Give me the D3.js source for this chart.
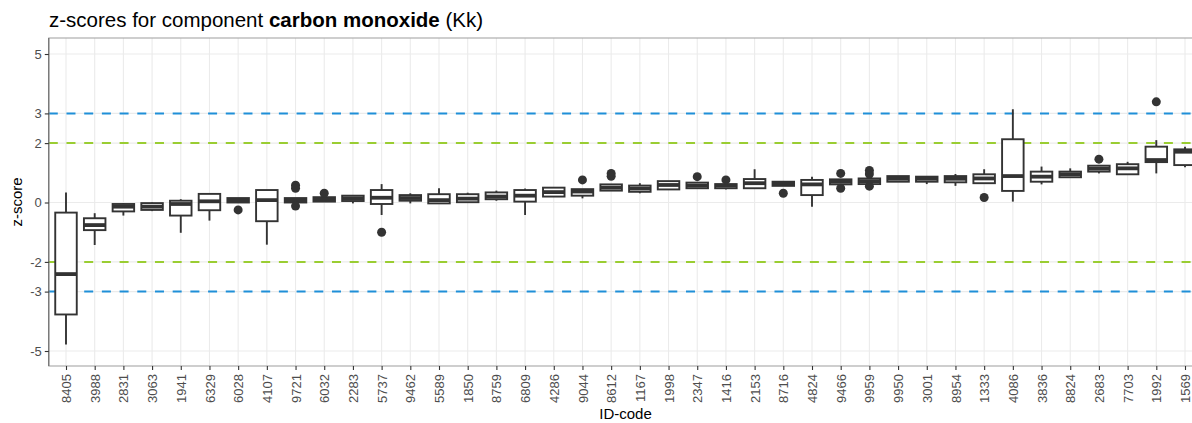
<!DOCTYPE html>
<html>
<head>
<meta charset="utf-8">
<script src="https://cdn.jsdelivr.net/npm/d3@7"></script>
<style>
  html, body { margin: 0; padding: 0; background: #fff; overflow: hidden; }
  svg { display: block; font-family: "Liberation Sans", Arial, sans-serif; }
</style>
</head>
<body>
<svg id="chart" width="1192" height="423"></svg>
<script>
const ids = ["8405","3988","2831","3063","1941","6329","6028","4107","9721","6032",
  "2283","5737","9462","5589","1850","8759","6809","4286","9044","8612",
  "1167","1998","2347","1416","2153","8716","4824","9466","9959","9950",
  "3001","8954","1333","4086","3836","8824","2683","7703","1992","1569"];
const whiskerLow = [-4.78,-1.43,-0.44,-0.29,-1.02,-0.61,0.00,-1.42,0.00,0.03,
  -0.03,-0.42,-0.03,-0.03,0.01,0.06,-0.42,0.20,0.14,0.40,
  0.31,0.44,0.48,0.44,0.48,0.56,-0.14,0.61,0.62,0.70,
  0.62,0.56,0.65,0.03,0.61,0.85,0.98,0.95,0.98,1.19];
const q1 = [-3.77,-0.93,-0.30,-0.25,-0.44,-0.26,0.00,-0.63,0.00,0.03,
  0.05,-0.05,0.06,-0.03,0.01,0.11,0.03,0.20,0.23,0.40,
  0.36,0.44,0.48,0.48,0.48,0.56,0.25,0.61,0.62,0.70,
  0.70,0.68,0.65,0.39,0.70,0.85,1.04,0.95,1.36,1.26];
const median = [-2.41,-0.76,-0.14,-0.14,-0.05,0.04,0.08,0.08,0.07,0.10,
  0.14,0.16,0.15,0.08,0.13,0.20,0.23,0.35,0.37,0.50,
  0.47,0.59,0.57,0.57,0.65,0.63,0.61,0.70,0.72,0.80,
  0.80,0.80,0.81,0.89,0.87,0.95,1.14,1.15,1.43,1.71];
const q3 = [-0.34,-0.53,-0.05,-0.02,0.06,0.29,0.15,0.42,0.15,0.18,
  0.23,0.42,0.25,0.28,0.28,0.34,0.42,0.50,0.45,0.61,
  0.57,0.72,0.67,0.62,0.79,0.70,0.76,0.78,0.81,0.89,
  0.87,0.89,0.95,2.13,1.04,1.04,1.24,1.29,1.88,1.79];
const whiskerHigh = [0.34,-0.36,-0.02,0.00,0.11,0.29,0.15,0.42,0.15,0.18,
  0.23,0.62,0.31,0.48,0.33,0.40,0.47,0.50,0.45,0.61,
  0.65,0.72,0.67,0.62,1.12,0.70,0.87,0.78,0.81,0.89,
  0.87,0.96,1.12,3.14,1.21,1.15,1.24,1.37,2.10,1.88];
const outliers = [[],[],[],[],[],[],[-0.25],[],[0.58,0.48,-0.12],[0.31],
  [],[-1.0],[],[],[],[],[],[],[0.76],[0.98,0.88],
  [],[],[0.87],[0.76],[],[0.31],[],[0.98,0.48],[1.08,0.96,0.55],[],
  [],[],[0.17],[],[],[],[1.46],[],[3.39],[]];
const yTicks = [-5,-3,-2,0,2,3,5];
const refLines = [
  {value: 3, color: "#1f8fd8"}, {value: -3, color: "#1f8fd8"},
  {value: 2, color: "#9acd32"}, {value: -2, color: "#9acd32"}
];

const svg = d3.select("#chart");
const x = d3.scalePoint().domain(ids).range([66, 1185]);
const step = x.step();
const panelL = x(ids[0]) - 0.6 * step;
const panelR = x(ids[ids.length - 1]) + 0.6 * step;
const panelT = 38, panelB = 366;
const y = d3.scaleLinear().domain([-5.505, 5.539]).range([panelB, panelT]);

// grid
const g = svg.append("g");
g.selectAll("line.gy").data(yTicks).join("line")
  .attr("x1", panelL).attr("x2", panelR)
  .attr("y1", d => y(d)).attr("y2", d => y(d))
  .attr("stroke", "#ebebeb").attr("stroke-width", 1.1);
g.selectAll("line.gx").data(ids).join("line")
  .attr("x1", d => x(d)).attr("x2", d => x(d))
  .attr("y1", panelT).attr("y2", panelB)
  .attr("stroke", "#ebebeb").attr("stroke-width", 1.1);

// reference lines
g.selectAll("line.ref").data(refLines).join("line")
  .attr("x1", panelL).attr("x2", panelR)
  .attr("y1", d => y(d.value)).attr("y2", d => y(d.value))
  .attr("stroke", d => d.color).attr("stroke-width", 2)
  .attr("stroke-dasharray", "9,8.7");

// boxes
const bw = 0.75 * step;
const data = ids.map((id, i) => ({id, lo: whiskerLow[i], q1: q1[i], med: median[i], q3: q3[i], hi: whiskerHigh[i], out: outliers[i]}));
const bx = g.append("g").selectAll("g").data(data).join("g");
const col = "#333333";
bx.append("line").attr("x1", d => x(d.id)).attr("x2", d => x(d.id))
  .attr("y1", d => y(d.hi)).attr("y2", d => y(d.q3))
  .attr("stroke", col).attr("stroke-width", 1.9);
bx.append("line").attr("x1", d => x(d.id)).attr("x2", d => x(d.id))
  .attr("y1", d => y(d.q1)).attr("y2", d => y(d.lo))
  .attr("stroke", col).attr("stroke-width", 1.9);
bx.append("rect").attr("x", d => x(d.id) - bw / 2).attr("width", bw)
  .attr("y", d => y(d.q3)).attr("height", d => Math.max(0, y(d.q1) - y(d.q3)))
  .attr("fill", "#fff").attr("stroke", col).attr("stroke-width", 1.9);
bx.append("line").attr("x1", d => x(d.id) - bw / 2).attr("x2", d => x(d.id) + bw / 2)
  .attr("y1", d => y(d.med)).attr("y2", d => y(d.med))
  .attr("stroke", col).attr("stroke-width", 3.8);
bx.selectAll("circle").data(d => d.out.map(v => ({id: d.id, v}))).join("circle")
  .attr("cx", d => x(d.id)).attr("cy", d => y(d.v)).attr("r", 4.5)
  .attr("fill", col);

// panel border
svg.append("rect").attr("x", panelL).attr("y", panelT)
  .attr("width", panelR - panelL).attr("height", panelB - panelT)
  .attr("fill", "none").attr("stroke", "#a6a6a6").attr("stroke-width", 1.1);
svg.append("line").attr("x1", panelL).attr("x2", panelL).attr("y1", panelT).attr("y2", panelB)
  .attr("stroke", "#666").attr("stroke-width", 1.1);

// axes
const yAxis = svg.append("g").attr("transform", `translate(${panelL},0)`)
  .call(d3.axisLeft(y).tickValues(yTicks).tickSize(4).tickPadding(3).tickFormat(d => String(d)));
yAxis.select(".domain").remove();
yAxis.selectAll(".tick line").attr("stroke", "#333").attr("stroke-width", 1.1);
yAxis.selectAll(".tick text").attr("fill", "#4d4d4d").style("font-size", "13px")
  .style("font-family", "Liberation Sans, Arial, sans-serif");

const xAxis = svg.append("g").attr("transform", `translate(0,${panelB})`)
  .call(d3.axisBottom(x).tickSize(4).tickPadding(3));
xAxis.select(".domain").remove();
xAxis.selectAll(".tick line").attr("stroke", "#333").attr("stroke-width", 1.1);
xAxis.selectAll(".tick text").attr("fill", "#4d4d4d").style("font-size", "13px")
  .style("font-family", "Liberation Sans, Arial, sans-serif")
  .attr("transform", "rotate(-90)")
  .attr("text-anchor", "end").attr("x", -8).attr("y", 0).attr("dy", "0.35em");

// titles
svg.append("text").attr("x", 49).attr("y", 27).attr("fill", "#000")
  .style("font-size", "20.5px")
  .call(t => {
    t.append("tspan").text("z-scores for component ");
    t.append("tspan").attr("font-weight", "bold").text("carbon monoxide");
    t.append("tspan").text(" (Kk)");
  });
svg.append("text").attr("transform", `translate(22,${(panelT + panelB) / 2}) rotate(-90)`)
  .attr("text-anchor", "middle").style("font-size", "15px").attr("fill", "#000").text("z-score");
svg.append("text").attr("x", (panelL + panelR) / 2).attr("y", 419)
  .attr("text-anchor", "middle").style("font-size", "15px").attr("fill", "#000").text("ID-code");
</script>
</body>
</html>
